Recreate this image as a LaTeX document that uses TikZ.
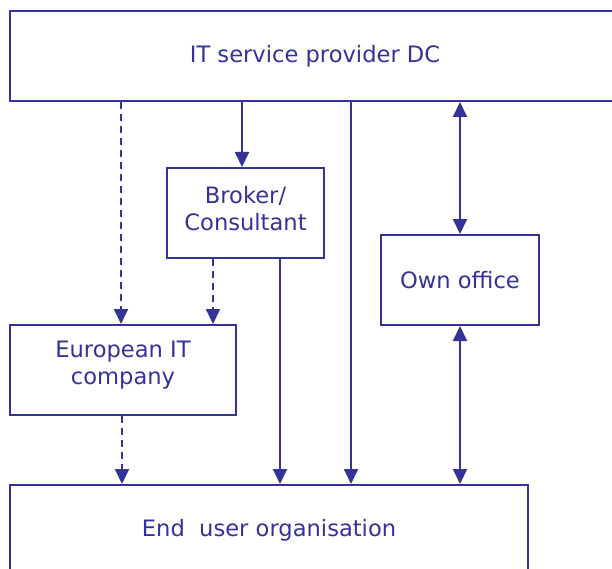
\documentclass[tikz,border=0pt]{standalone}
\usepackage{fontspec}
\setmainfont{DejaVu Sans}
\usetikzlibrary{arrows.meta}
\definecolor{navy}{HTML}{333399}
\tikzset{
  txt/.style={text=navy, align=center, inner sep=0pt,
    font=\fontsize{22.6}{27}\selectfont},
  box/.style={txt, draw=navy, line width=2pt, fill=white, minimum height=90pt},
  tip/.tip={Triangle[width=14pt,length=15pt]},
  link/.style={draw=navy, line width=2pt, -tip},
  both/.style={link, tip-tip},
  dashlink/.style={link, dash pattern=on 7pt off 5pt}
}
\begin{document}
\begin{tikzpicture}[x=1pt,y=-1pt]
  \useasboundingbox (0,0) rectangle (612,569);
  \clip (0,0) rectangle (612,569);

  % boxes
  \node[box, minimum width=610pt] (dc) at (315,56) {IT service provider DC};
  \node[box, minimum width=157pt,
        label={[txt,yshift=4.5pt]center:Broker/\\Consultant}] (broker) at (245.5,213) {};
  \node[box, minimum width=158pt] (office) at (460,280) {Own office};
  \node[box, minimum width=226pt,
        label={[txt,yshift=5pt]center:European IT\\company}] (euro) at (123,370) {};
  \node[box, minimum width=518pt] (end) at (269,530) {End\ \ user organisation};

  % connector columns
  \coordinate (xa) at (121,0);
  \coordinate (xb) at (242,0);
  \coordinate (xc) at (213,0);
  \coordinate (xd) at (280,0);
  \coordinate (xe) at (351,0);
  \coordinate (xf) at (460,0);
  \coordinate (xg) at (122,0);

  % connectors
  \draw[dashlink] (dc.south -| xa) -- (euro.north -| xa);
  \draw[link] (dc.south -| xb) -- (broker.north -| xb);
  \draw[dashlink] (broker.south -| xc) -- (euro.north -| xc);
  \draw[link] (broker.south -| xd) -- (end.north -| xd);
  \draw[link] (dc.south -| xe) -- (end.north -| xe);
  \draw[both] (dc.south -| xf) -- (office.north -| xf);
  \draw[both] (office.south -| xf) -- (end.north -| xf);
  \draw[dashlink] (euro.south -| xg) -- (end.north -| xg);
\end{tikzpicture}
\end{document}
